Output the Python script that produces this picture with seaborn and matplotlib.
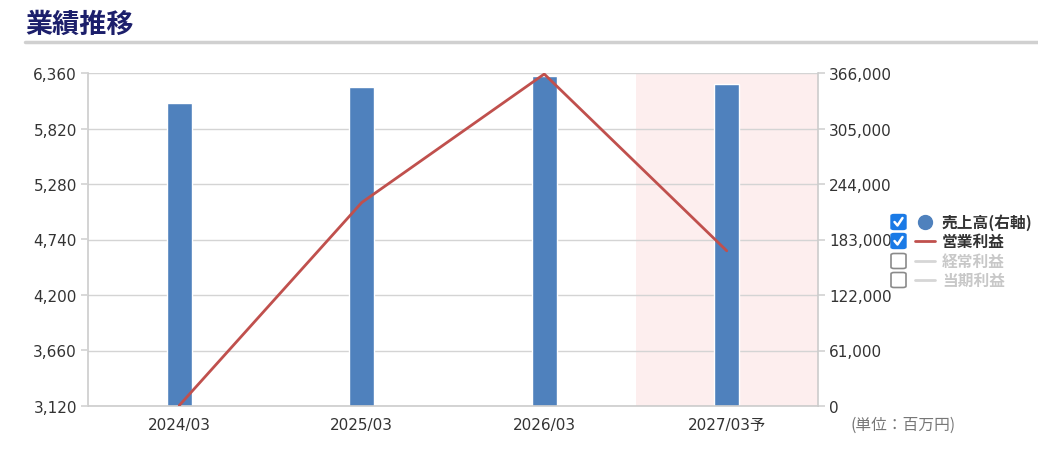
import matplotlib
matplotlib.use("Agg")
import matplotlib.pyplot as plt
from matplotlib.lines import Line2D
from matplotlib.patches import FancyBboxPatch
import numpy as np
import pandas as pd
import seaborn as sns

# ---- data ----
periods = ["2024/03", "2025/03", "2026/03", "2027/03予"]
sales = [333000, 350300, 362400, 353900]          # 売上高 (right axis, bars)
op_profit = [3125, 5100, 6350, 4630]              # 営業利益 (left axis, line)
left_ticks = [3120, 3660, 4200, 4740, 5280, 5820, 6360]
right_ticks = [0, 61000, 122000, 183000, 244000, 305000, 366000]
legend_labels = ["売上高(右軸)", "営業利益", "経常利益", "当期利益"]
legend_active = [True, True, False, False]
title = "業績推移"
unit_label = "(単位：百万円)"

sns.set_theme(style="white")
plt.rcParams["font.family"] = ["DejaVu Sans", "Noto Sans CJK JP"]

W, H = 1038, 460
fig = plt.figure(figsize=(W / 100, H / 100), dpi=100)

def fx(px):
    return px / W

def fy(py):
    return 1 - py / H

ax = fig.add_axes([fx(88), fy(407), fx(818) - fx(88), fy(74) - fy(407)])

df = pd.DataFrame({"period": periods, "sales": sales, "op": op_profit})
bar_color = "#4F81BD"
line_color = "#C0504D"
grid_color = "#d4d4d4"

# forecast band
ax.axvspan(2.5, 3.5, color="#FDEEEE", zorder=0, lw=0)

sns.barplot(data=df, x="period", y="sales", color=bar_color, width=0.137,
            saturation=1, ax=ax, zorder=2)
ax.set_xlim(-0.5, 3.5)
ax.set_ylim(right_ticks[0], right_ticks[-1])
ax.set_xlabel("")
ax.set_ylabel("")
ax.grid(axis="y", color=grid_color, lw=1, zorder=1)
ax.set_axisbelow(True)
ax.set_xticks(np.arange(len(periods)))
ax.set_xticklabels(periods)
ax.set_xticks(np.arange(len(periods) - 1) + 0.5, minor=True)
ax.tick_params(axis="x", which="major", length=0, pad=8, labelsize=11, labelcolor="#333333")
ax.tick_params(axis="x", which="minor", length=9, direction="in", color="#cccccc", width=1)

ax.spines["top"].set_visible(False)
for side in ["left", "right", "bottom"]:
    ax.spines[side].set_color("#cccccc")
    ax.spines[side].set_linewidth(1.2)

ax2 = ax.twinx()
sns.lineplot(x=np.arange(len(periods)), y=df["op"], color=line_color, lw=2, ax=ax2)
ax2.set_ylim(left_ticks[0], left_ticks[-1])
ax2.set_yticks(left_ticks)
ax2.set_yticklabels([f"{v:,}" for v in left_ticks])
ax2.yaxis.set_ticks_position("left")
ax2.yaxis.set_label_position("left")
ax2.tick_params(axis="y", length=5, color=grid_color, pad=3, labelsize=11, labelcolor="#333333")
ax2.set_ylabel("")
ax2.set_xlim(-0.5, 3.5)
for s in ax2.spines.values():
    s.set_visible(False)
ax2.grid(False)

# right axis for sales (set after twinx, which resets tick side)
ax.yaxis.set_ticks_position("right")
ax.yaxis.set_label_position("right")
ax.set_yticks(right_ticks)
ax.set_yticklabels([f"{v:,}" for v in right_ticks])
ax.tick_params(axis="y", which="major", length=5, color=grid_color, pad=3,
               labelsize=11, labelcolor="#333333", left=False, labelleft=False,
               right=True, labelright=True)

# title and underline
fig.text(fx(25), fy(25), title, fontsize=19.5, fontweight="bold", color="#1c1f6b",
         family=["Noto Sans CJK JP"], va="center", ha="left")
fig.add_artist(Line2D([fx(25), fx(1038)], [fy(43), fy(43)], color="#d0d0d0", lw=2.5))

# unit label
fig.text(fx(850), fy(425), unit_label, fontsize=11.3, color="#777777",
         family=["Noto Sans CJK JP"], va="center", ha="left")

# legend (manual, with checkboxes)
rows_y = [223, 242, 262, 281]
for i, (lab, act) in enumerate(zip(legend_labels, legend_active)):
    cy = rows_y[i]
    bx0, bsz = 891, 15
    if act:
        box = FancyBboxPatch((fx(bx0), fy(cy + bsz / 2)), fx(bsz), bsz / H,
                             boxstyle="round,pad=0,rounding_size=0.003",
                             transform=fig.transFigure, facecolor="#1a7ae6",
                             edgecolor="#1a7ae6", lw=1)
        fig.add_artist(box)
        fig.add_artist(Line2D([fx(bx0 + 3.5), fx(bx0 + 6.5), fx(bx0 + 11.5)],
                              [fy(cy), fy(cy + 3.5), fy(cy - 4)],
                              color="white", lw=1.8, solid_capstyle="round"))
    else:
        box = FancyBboxPatch((fx(bx0), fy(cy + bsz / 2)), fx(bsz), bsz / H,
                             boxstyle="round,pad=0,rounding_size=0.003",
                             transform=fig.transFigure, facecolor="white",
                             edgecolor="#8a8a8a", lw=1.2)
        fig.add_artist(box)
    if i == 0:
        fig.add_artist(Line2D([fx(925)], [fy(cy)], marker="o", markersize=10,
                              color=bar_color, lw=0))
    else:
        col = line_color if act else "#d6d6d6"
        fig.add_artist(Line2D([fx(915), fx(935)], [fy(cy), fy(cy)], color=col, lw=2))
    fig.text(fx(942), fy(cy), lab, fontsize=11.3, fontweight="bold",
             color="#333333" if act else "#c8c8c8",
             family=["Noto Sans CJK JP", "DejaVu Sans"], va="center", ha="left")

fig.savefig("out.png", dpi=100)
